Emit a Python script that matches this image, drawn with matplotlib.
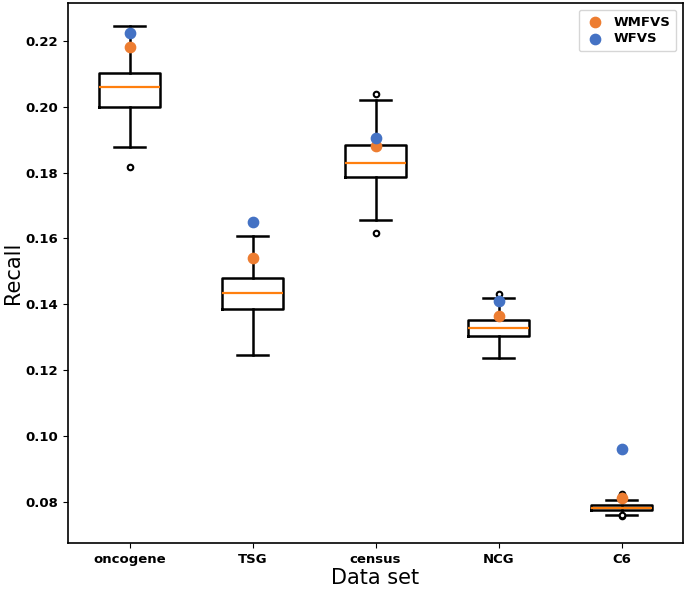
import matplotlib
matplotlib.use("Agg")
import matplotlib.pyplot as plt

categories = ["oncogene", "TSG", "census", "NCG", "C6"]
whislo = [0.1878, 0.1246, 0.1657, 0.1238, 0.0761]
q1 = [0.1999, 0.1387, 0.1788, 0.1304, 0.0775]
med = [0.2060, 0.1434, 0.1829, 0.1328, 0.0782]
q3 = [0.2103, 0.1480, 0.1885, 0.1353, 0.0789]
whishi = [0.2246, 0.1606, 0.2021, 0.1420, 0.0805]
fliers = [[0.1817], [], [0.1618, 0.2039], [0.1431],
          [0.0813, 0.0817, 0.0820, 0.0823, 0.0756, 0.0759]]
wmfvs = [0.2182, 0.1542, 0.1881, 0.1363, 0.0811]
wfvs = [0.2224, 0.1651, 0.1904, 0.1411, 0.0960]

fig = plt.figure(figsize=(6.85, 5.89), dpi=100)
ax = fig.add_axes([68/685, 1 - 543/589, (683 - 68)/685, (543 - 3)/589])

stats = []
for i, c in enumerate(categories):
    stats.append(dict(label=c, whislo=whislo[i], q1=q1[i], med=med[i],
                      q3=q3[i], whishi=whishi[i], fliers=fliers[i]))
pos = list(range(1, len(categories) + 1))
ax.bxp(stats, positions=pos, widths=0.5,
       boxprops=dict(color="black", linewidth=1.8),
       whiskerprops=dict(color="black", linewidth=1.8),
       capprops=dict(color="black", linewidth=1.8),
       medianprops=dict(color="#ff7f0e", linewidth=1.6),
       flierprops=dict(marker="o", markerfacecolor="white",
                       markeredgecolor="black", markersize=4,
                       markeredgewidth=1.5))

ax.scatter(pos, wmfvs, color="#ED7D31", s=55, zorder=3, label="WMFVS")
ax.scatter(pos, wfvs, color="#4472C4", s=55, zorder=3, label="WFVS")

ax.set_xlim(0.5, 5.5)
ax.set_ylim(0.0675, 0.2315)
ax.set_yticks([0.08, 0.10, 0.12, 0.14, 0.16, 0.18, 0.20, 0.22])
ax.set_xticks(pos)
ax.set_xticklabels(categories)
for lbl in ax.get_xticklabels() + ax.get_yticklabels():
    lbl.set_fontweight("bold")
    lbl.set_fontsize(9.5)
ax.set_xlabel("Data set", fontsize=15, labelpad=2)
ax.set_ylabel("Recall", fontsize=15, labelpad=2)
for s in ax.spines.values():
    s.set_linewidth(1.2)

leg = ax.legend(loc="upper right", prop=dict(weight="bold", size=9.5),
                handletextpad=0.6, borderpad=0.45, labelspacing=0.3,
                handlelength=1.6)

fig.savefig("out.png", dpi=100)
